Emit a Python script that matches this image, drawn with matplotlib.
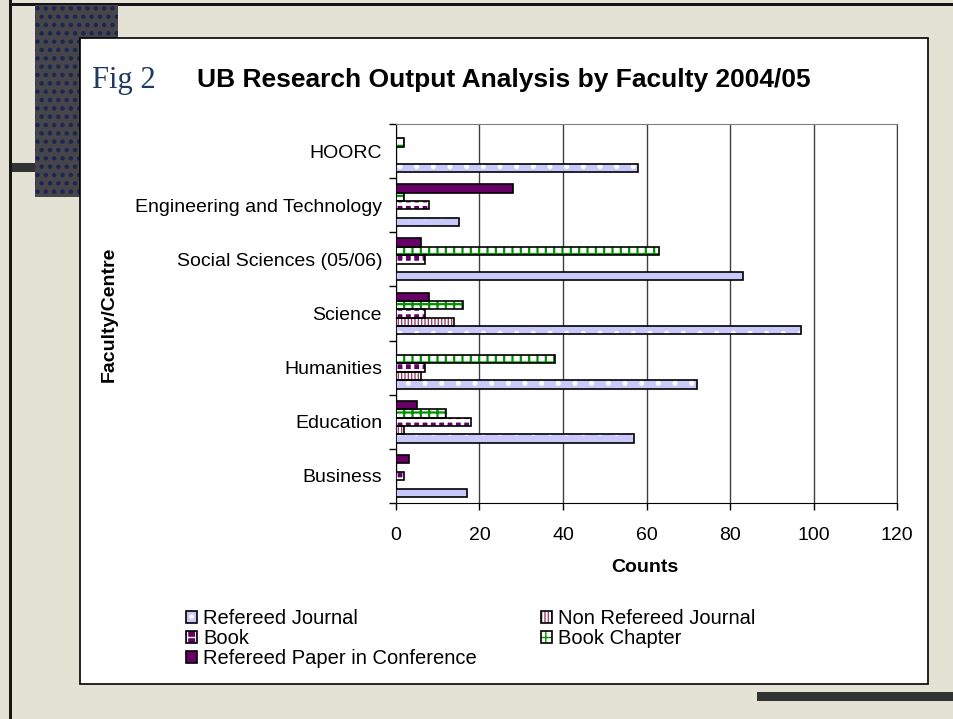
import numpy as np
import matplotlib.pyplot as plt
from matplotlib.patches import Rectangle, Patch
from matplotlib.ticker import FixedLocator

# data
faculties = ["Business", "Education", "Humanities", "Science",
             "Social Sciences (05/06)", "Engineering and Technology", "HOORC"]
refereed_journal = [17, 57, 72, 97, 83, 15, 58]
non_refereed_journal = [0, 2, 6, 14, 0, 0, 0]
book = [2, 18, 7, 7, 7, 8, 0]
book_chapter = [0, 12, 38, 16, 63, 2, 2]
conference = [3, 5, 0, 8, 6, 28, 0]
series_names = ["Refereed Journal", "Non Refereed Journal", "Book",
                "Book Chapter", "Refereed Paper in Conference"]
x_ticks = [0, 20, 40, 60, 80, 100, 120]

W, H = 954, 719
plt.rcParams['font.family'] = ['Liberation Sans', 'DejaVu Sans']

fig = plt.figure(figsize=(W / 100, H / 100), dpi=100)
fig.patch.set_facecolor('#E4E2D5')


def px_rect(x0, y0, x1, y1, **kw):
    r = Rectangle((x0 / W, 1 - y1 / H), (x1 - x0) / W, (y1 - y0) / H,
                  transform=fig.transFigure, **kw)
    fig.add_artist(r)
    return r


# slide decoration
px_rect(9, 0, 12, H, facecolor='#151515', edgecolor='none', zorder=-5)
px_rect(9, 3, W, 6, facecolor='#151515', edgecolor='none', zorder=-5)
with plt.rc_context({'hatch.linewidth': 2.0}):
    px_rect(35, 5, 118, 197, facecolor='#45454a', edgecolor='#1c2650',
            hatch='..', linewidth=0, zorder=-4)
px_rect(12, 163, 35, 172, facecolor='#333333', edgecolor='none', zorder=-4)
px_rect(757, 692, W, 701, facecolor='#333333', edgecolor='none', zorder=-4)
px_rect(80, 38, 928, 684, facecolor='white', edgecolor='black',
        linewidth=1.2, zorder=-3)

fig.text(92 / W, 1 - 88 / H, "Fig 2", family=['Liberation Serif'],
         fontsize=22, color='#1F3A60', va='baseline', ha='left')
fig.text(197 / W, 1 - 87 / H, "UB Research Output Analysis by Faculty 2004/05",
         fontsize=19, fontweight='bold', va='baseline', ha='left')

ax = fig.add_axes([396 / W, 1 - 503 / H, (897 - 396) / W, (503 - 124) / H])

values = [refereed_journal, non_refereed_journal, book, book_chapter, conference]
# face, hatch, hatch colour, hatch width
styles = [('#C8C8FA', '.', 'white', 1.2),
          ('white', '|||||', '#A0406E', 1.0),
          ('#660066', '++', 'white', 2.5),
          ('white', '++', '#009000', 1.6),
          ('#660066', '', '#660066', 1.0)]

y = np.arange(len(faculties))
bh = 0.155
handles = []
for i, (vals, name, st) in enumerate(zip(values, series_names, styles)):
    face, hatch, hcol, hlw = st
    pos = y + (i - 2) * bh
    with plt.rc_context({'hatch.linewidth': hlw}):
        ax.barh(pos, vals, height=bh, color=face, hatch=hatch, edgecolor=hcol,
                linewidth=0, zorder=3)
    ax.barh(pos, vals, height=bh, fill=False, edgecolor='black',
            linewidth=1.2, zorder=4)
    with plt.rc_context({'hatch.linewidth': hlw}):
        fillp = Patch(facecolor=face, hatch=hatch, edgecolor=hcol, linewidth=0)
    edgep = Patch(fill=False, edgecolor='black', linewidth=1.2)
    handles.append((fillp, edgep))

ax.set_xlim(0, 120)
ax.set_ylim(-0.5, len(faculties) - 0.5)
ax.set_xticks(x_ticks)
ax.set_yticks(y)
ax.set_yticklabels(faculties)
ax.yaxis.set_minor_locator(FixedLocator(np.arange(-0.5, len(faculties), 1)))
ax.tick_params(axis='y', which='major', length=0, pad=10, labelsize=14)
ax.tick_params(axis='y', which='minor', length=5, width=1, direction='out')
ax.tick_params(axis='x', length=5, width=1, direction='out', pad=12.5,
               labelsize=14)
ax.grid(axis='x', color='#404040', linewidth=1, zorder=1)
ax.set_axisbelow(True)
ax.spines['left'].set_color('black')
ax.spines['bottom'].set_color('black')
ax.spines['top'].set_color('#808080')
ax.spines['right'].set_color('#404040')

fig.text(645 / W, 1 - 568 / H, "Counts", fontsize=14, fontweight='bold',
         ha='center', va='center')
fig.text(109 / W, 1 - 314 / H, "Faculty/Centre", fontsize=14,
         fontweight='bold', rotation=90, ha='center', va='center')

# legend laid out row by row like the original
order = [0, 2, 4, 1, 3]
fig.legend([handles[k] for k in order], [series_names[k] for k in order],
           loc='upper left', bbox_to_anchor=(186 / W, 1 - 609 / H), ncol=2,
           frameon=False, fontsize=14.5, handlelength=0.55, handleheight=0.55,
           handletextpad=0.3, labelspacing=0.05, columnspacing=3.2,
           borderpad=0, borderaxespad=0)

fig.savefig('out.png', dpi=100, facecolor=fig.get_facecolor())
